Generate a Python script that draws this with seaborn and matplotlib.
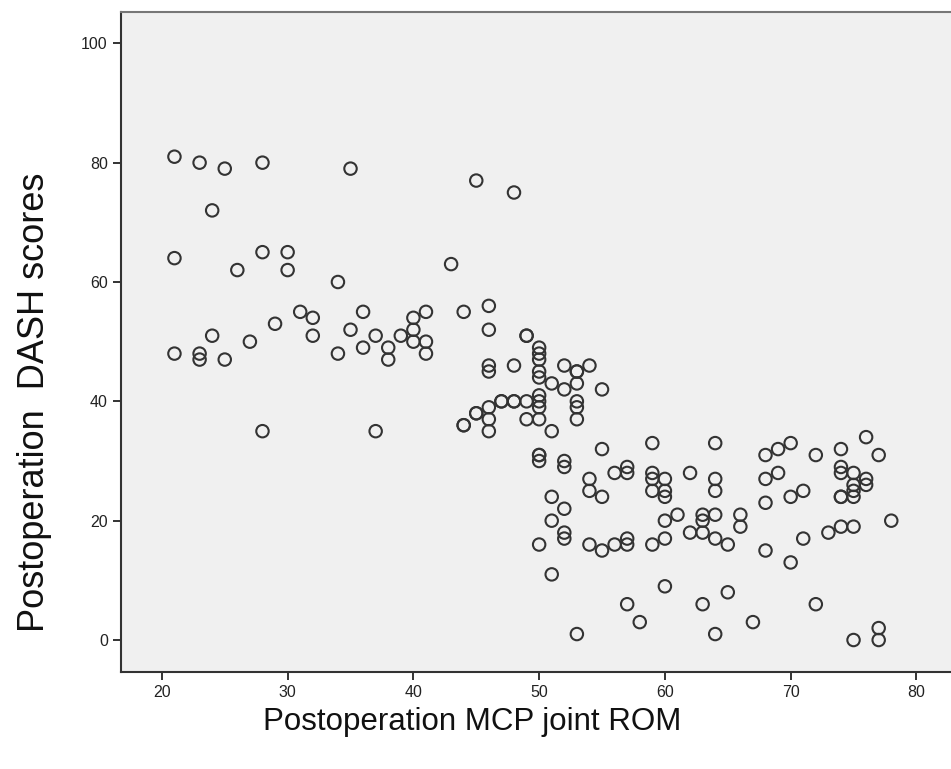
import matplotlib
matplotlib.use("Agg")
import matplotlib.pyplot as plt
import seaborn as sns
import pandas as pd

# postoperation MCP joint ROM (x) and DASH scores (y)
rom = [21, 23, 25, 28, 35, 24, 21, 28, 30, 26, 30, 34, 43, 45, 48,
       31, 32, 36, 29, 35, 40, 32, 37, 39, 40, 40, 21, 23, 23, 24, 25, 27, 34, 36, 38, 38, 28, 37,
       41, 44, 41, 41, 46, 46, 49, 49, 50, 50, 50, 46, 46, 48, 50, 50, 52, 53, 53, 54, 51, 52, 53, 55,
       47, 47, 48, 48, 49, 50, 50, 50, 46, 45, 45, 44, 44, 46, 46, 49, 50, 51, 53, 53, 53,
       50, 50, 50, 52, 52, 55, 54, 56, 57, 57, 59, 59, 59, 60, 62, 54, 55, 59, 60, 60, 51, 52, 51,
       61, 60, 62, 52, 52, 50, 54, 55, 56, 57, 57, 59, 60, 51, 60, 57, 58, 53,
       63, 63, 64, 64, 64, 68, 69, 70, 72, 74, 76, 77, 68, 69, 74, 74, 75, 76, 76, 75, 75, 74, 74,
       75, 70, 71, 68, 64, 66, 66, 63, 64, 65, 68, 70, 71, 73, 74, 75, 78, 65, 63, 72, 67, 64, 75,
       77, 77]
dash = [81, 80, 79, 80, 79, 72, 64, 65, 65, 62, 62, 60, 63, 77, 75,
        55, 54, 55, 53, 52, 54, 51, 51, 51, 52, 50, 48, 48, 47, 51, 47, 50, 48, 49, 49, 47, 35, 35,
        55, 55, 50, 48, 56, 52, 51, 51, 49, 48, 47, 46, 45, 46, 45, 44, 46, 45, 45, 46, 43, 42, 43, 42,
        40, 40, 40, 40, 40, 41, 40, 39, 39, 38, 38, 36, 36, 37, 35, 37, 37, 35, 40, 39, 37,
        31, 31, 30, 30, 29, 32, 27, 28, 29, 28, 33, 28, 27, 27, 28, 25, 24, 25, 25, 24, 24, 22, 20,
        21, 20, 18, 18, 17, 16, 16, 15, 16, 17, 16, 16, 17, 11, 9, 6, 3, 1,
        21, 20, 33, 27, 25, 31, 32, 33, 31, 32, 34, 31, 27, 28, 29, 28, 28, 27, 26, 26, 25, 24, 24,
        24, 24, 25, 23, 21, 21, 19, 18, 17, 16, 15, 13, 17, 18, 19, 19, 20, 8, 6, 6, 3, 1, 0,
        2, 0]

x_ticks = [20, 30, 40, 50, 60, 70, 80]
y_ticks = [0, 20, 40, 60, 80, 100]

df = pd.DataFrame({"rom": rom, "dash": dash})

sns.set_style("white")
plt.rcParams["font.family"] = ["Liberation Sans", "DejaVu Sans"]

fig = plt.figure(figsize=(9.51, 7.69), dpi=100)
ax = fig.add_axes([121 / 951, 1 - 672 / 769, 830 / 951, 660 / 769])
ax.set_facecolor("#f0f0f0")

sns.scatterplot(x="rom", y="dash", data=df, ax=ax, marker="o", s=80,
                facecolors="none", edgecolor="#333333", linewidth=1.5)

ax.set_xlim(16.75, 82.75)
ax.set_ylim(-5.36, 105.25)
ax.set_xticks(x_ticks)
ax.set_yticks(y_ticks)
ax.tick_params(axis="both", direction="out", length=6, width=1.4, color="#333333",
               labelsize=11.5, labelcolor="#222222", left=True, bottom=True)

ax.spines["right"].set_visible(False)
ax.spines["left"].set_color("#333333")
ax.spines["bottom"].set_color("#333333")
ax.spines["top"].set_color("#777777")
for s in ["left", "bottom", "top"]:
    ax.spines[s].set_linewidth(1.5)

ax.set_xlabel("Postoperation MCP joint ROM", fontsize=22.5, color="#111111")
ax.set_ylabel("Postoperation  DASH scores", fontsize=26, color="#111111")
ax.xaxis.set_label_coords(0.423, -0.053)
ax.yaxis.set_label_coords(-0.083, 0.409)

fig.savefig("out.png", dpi=100)
